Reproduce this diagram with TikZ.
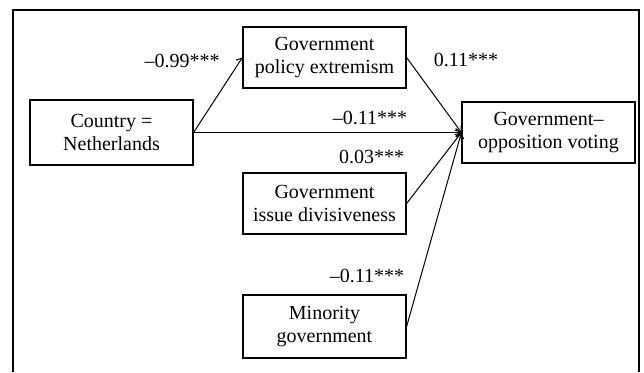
\documentclass[tikz,border=0pt]{standalone}
\usepackage{fontspec}
\setmainfont{Liberation Serif}
\usetikzlibrary{arrows.meta}
\begin{document}
\begin{tikzpicture}[x=1pt,y=-1pt,
  box/.style={draw, line width=1.2pt, minimum width=163pt, minimum height=61pt,
    align=center, font=\fontsize{20}{23}\selectfont, inner sep=0pt},
  lbl/.style={font=\fontsize{20}{23}\selectfont, inner sep=0pt},
  conn/.style={line width=1pt, -{Straight Barb[length=5pt,width=8pt]}}]
\useasboundingbox (0,0) rectangle (644,372);
\draw[line width=2.5pt] (13,372) -- (13,10) -- (639,10) -- (639,372);
\node[box, minimum height=65pt] (country) at (111.5,132.5) {Country =\\Netherlands};
\node[box] (policy) at (324.5,57.5) {Government\\policy extremism};
\node[box] (issue) at (324.5,203.5) {Government\\issue divisiveness};
\node[box, minimum height=63pt] (minority) at (324.5,326.5) {Minority\\government};
\node[box, minimum width=173pt] (govopp) at (548.5,132.5) {Government\textendash\\opposition voting};
\draw[conn] (country.east) -- (policy.west);
\draw[conn] (country.east) -- (govopp.west);
\draw[conn] (policy.east) -- (govopp.west);
\draw[conn] (issue.east) -- (govopp.west);
\draw[conn] (minority.east) -- (govopp.west);
\node[lbl] (l1) at (182,61) {\textendash0.99***};
\node[lbl] (l2) at (466,60) {0.11***};
\node[lbl] (l3) at (370,118) {\textendash0.11***};
\node[lbl] (l4) at (371.5,157) {0.03***};
\node[lbl] (l5) at (367,276) {\textendash0.11***};
\end{tikzpicture}
\end{document}
